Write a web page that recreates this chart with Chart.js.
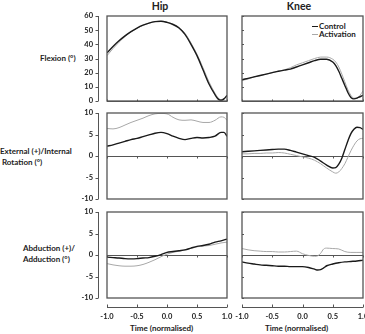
<!DOCTYPE html>
<html>
<head>
<meta charset="utf-8">
<script src="https://cdn.jsdelivr.net/npm/chart.js@4.4.1/dist/chart.umd.min.js"></script>
<style>
  body { margin: 0; background: #fff; }
  #wrap { position: relative; width: 365px; height: 334px; overflow: hidden;
          font-family: Lato, sans-serif; font-weight: bold; color: #222; }
  canvas { position: absolute; left: 0; top: 0; }
  .lbl { position: absolute; font-size: 8px; line-height: 11px; white-space: pre; }
  .title { position: absolute; font-size: 10.5px; transform: translateX(-50%); }
  .key { position: absolute; font-size: 8px; line-height: 9px; white-space: nowrap; }
  .key i { display: inline-block; width: 6px; vertical-align: middle; margin-right: 1px; }
</style>
</head>
<body>
<div id="wrap">
  <div class="title" style="left:160px; top:0px;">Hip</div>
  <div class="title" style="left:299px; top:0px;">Knee</div>
  <div class="lbl" style="left:40px; top:53px;">Flexion (°)</div>
  <div class="lbl" style="left:0px; top:146px;">External (+)/Internal
 Rotation (°)</div>
  <div class="lbl" style="left:23px; top:243px;">Abduction (+)/
Adduction (°)</div>
  <div class="lbl" style="left:130px; top:323px;">Time (normalised)</div>
  <div class="lbl" style="left:265px; top:323px;">Time (normalised)</div>
  <div class="key" style="left:312px; top:22px;"><i style="border-top:1.5px solid #1a1a1a"></i>Control</div>
  <div class="key" style="left:312px; top:30px;"><i style="border-top:1px solid #a8a8a8"></i>Activation</div>
  <canvas id="c0" width="365" height="334"></canvas>
  <canvas id="c1" width="365" height="334"></canvas>
  <canvas id="c2" width="365" height="334"></canvas>
  <canvas id="c3" width="365" height="334"></canvas>
  <canvas id="c4" width="365" height="334"></canvas>
  <canvas id="c5" width="365" height="334"></canvas>
</div>
<script>
// normalised time points (x) for each panel
const timeHipFlex = [-1, -0.9, -0.8, -0.7, -0.6, -0.5, -0.4, -0.3, -0.2, -0.1, 0, 0.1, 0.2, 0.3, 0.4, 0.5, 0.6, 0.7, 0.8, 0.85, 0.9, 0.95, 1];
const timeKnee = [-1, -0.9, -0.8, -0.7, -0.6, -0.5, -0.4, -0.3, -0.2, -0.1, 0, 0.1, 0.2, 0.3, 0.4, 0.5, 0.55, 0.6, 0.65, 0.7, 0.75, 0.8, 0.85, 0.9, 0.95, 1];
const timeHipRot = [-1, -0.9, -0.8, -0.7, -0.6, -0.5, -0.4, -0.3, -0.2, -0.1, 0, 0.1, 0.2, 0.3, 0.4, 0.5, 0.6, 0.7, 0.8, 0.9, 0.95, 1];
const timeHipAbd = [-1, -0.9, -0.8, -0.7, -0.6, -0.5, -0.4, -0.3, -0.2, -0.1, 0, 0.1, 0.2, 0.3, 0.4, 0.5, 0.6, 0.7, 0.8, 0.9, 1];
const timeKneeAbd = [-1, -0.9, -0.8, -0.7, -0.6, -0.5, -0.4, -0.3, -0.2, -0.1, 0, 0.1, 0.2, 0.25, 0.3, 0.35, 0.4, 0.5, 0.6, 0.7, 0.8, 0.9, 1];

// joint angles (degrees)
const hipFlexControl = [34, 38.5, 42.5, 46, 49, 51.5, 53.5, 55, 56, 56.3, 55.5, 54, 51.5, 47, 40, 32, 22, 12, 4.5, 1.5, 0.5, 1.5, 4];
const hipFlexActivation = [32, 37, 41.5, 45.5, 48.7, 51.3, 53.4, 55, 56, 56.3, 55.7, 54.3, 52, 47.8, 41, 33, 23.5, 13.5, 5.5, 2.3, 1, 1.8, 3.5];
const kneeFlexControl = [15, 16, 17, 18, 19, 20, 21, 21.8, 22.5, 24, 25.5, 27, 28.5, 29.5, 29.5, 27.5, 25, 21, 16, 11, 6, 2.5, 1.5, 2, 3, 4];
const kneeFlexActivation = [14.5, 15.5, 17, 18, 19, 20, 21, 22, 23.5, 25.5, 27, 28.5, 30, 31, 31, 29.5, 27.5, 24, 19, 13.5, 8, 4, 2, 2, 4, 7];
const hipRotControl = [2.3, 2.6, 3.0, 3.4, 3.8, 4.1, 4.5, 4.9, 5.3, 5.5, 5.2, 4.6, 4.1, 3.8, 4.1, 4.3, 4.2, 4.3, 4.6, 5.5, 5.5, 4.6];
const hipRotActivation = [6.4, 6.3, 6.6, 7.2, 7.8, 8.3, 8.8, 9.4, 9.8, 9.9, 9.8, 9.0, 8.4, 8.3, 8.4, 8.1, 7.8, 7.8, 8.3, 9.1, 9.0, 8.3];
const kneeRotControl = [1.0, 1.1, 1.2, 1.3, 1.4, 1.5, 1.6, 1.6, 1.3, 0.9, 0.5, 0.1, -0.3, -1.2, -2.1, -2.8, -2.7, -1.9, -0.5, 1.5, 3.5, 5.2, 6.2, 6.7, 6.6, 6.2];
const kneeRotActivation = [0.5, 0.5, 0.6, 0.6, 0.7, 0.7, 0.8, 0.7, 0.4, 0.1, -0.2, -0.5, -1.0, -1.8, -2.8, -3.7, -4.0, -3.7, -2.9, -1.8, -0.3, 1.2, 2.5, 3.5, 4.0, 4.1];
const hipAbdControl = [-0.5, -0.6, -0.7, -0.85, -0.9, -0.85, -0.7, -0.6, -0.3, 0.1, 0.6, 0.8, 1.0, 1.2, 1.6, 2.0, 2.2, 2.5, 3.0, 3.3, 3.7];
const hipAbdActivation = [-2.0, -2.3, -2.5, -2.6, -2.6, -2.5, -2.2, -1.7, -1.1, -0.4, 0.2, 0.6, 0.9, 1.2, 1.6, 1.9, 2.1, 2.2, 2.5, 2.8, 3.0];
const kneeAbdControl = [-1.6, -1.9, -2.1, -2.3, -2.4, -2.5, -2.6, -2.6, -2.7, -2.7, -2.7, -2.9, -3.3, -3.5, -3.4, -3.0, -2.5, -2.1, -1.8, -1.6, -1.5, -1.4, -1.2];
const kneeAbdActivation = [1.5, 1.2, 1.0, 0.9, 0.8, 0.8, 0.7, 0.7, 0.8, 0.9, 0.3, -0.1, -0.3, -0.2, 0.4, 1.4, 1.6, 1.5, 1.4, 0.8, 0.6, 0.6, 0.6];

const seriesNames = ["Control", "Activation"];
const timeTicks = [-1, -0.5, 0, 0.5, 1];

// plot boxes in page pixels
const colBox = { hip: [107, 227], knee: [242, 363] };
const rowBox = [[16, 101], [113, 199], [212, 298]];
const W = 365, H = 334;
const yAxisWidth = 32, xAxisHeight = 26;

const panels = [
  { id: "c0", col: "hip", row: 0, t: timeHipFlex, a: hipFlexControl, b: hipFlexActivation, min: 0, max: 60, step: 10 },
  { id: "c1", col: "knee", row: 0, t: timeKnee, a: kneeFlexControl, b: kneeFlexActivation, min: 0, max: 60, step: 10 },
  { id: "c2", col: "hip", row: 1, t: timeHipRot, a: hipRotControl, b: hipRotActivation, min: -10, max: 10, step: 5 },
  { id: "c3", col: "knee", row: 1, t: timeKnee, a: kneeRotControl, b: kneeRotActivation, min: -10, max: 10, step: 5 },
  { id: "c4", col: "hip", row: 2, t: timeHipAbd, a: hipAbdControl, b: hipAbdActivation, min: -10, max: 10, step: 5 },
  { id: "c5", col: "knee", row: 2, t: timeKneeAbd, a: kneeAbdControl, b: kneeAbdActivation, min: -10, max: 10, step: 5 },
];

const axisColor = "#555";
const tickFont = { family: "Lato", weight: "bold", size: 7.5 };

// draws the Excel-like frame: box, zero line, offset axes
const framePlugin = {
  id: "frame",
  beforeDatasetsDraw(chart, args, opts) {
    const { ctx, chartArea: a, scales: { x, y } } = chart;
    const y0 = Math.round(y.getPixelForValue(0)) + 0.5;
    ctx.save();
    ctx.strokeStyle = axisColor;
    ctx.lineWidth = 1;
    ctx.beginPath();
    ctx.moveTo(a.left, y0);
    ctx.lineTo(a.right, y0);
    x.ticks.forEach((t) => {
      const px = Math.round(x.getPixelForValue(t.value)) + 0.5;
      ctx.moveTo(px, y0);
      ctx.lineTo(px, y0 + opts.zeroTick);
    });
    ctx.stroke();
    ctx.restore();
  },
  afterDatasetsDraw(chart, args, opts) {
    const { ctx, chartArea: a, scales: { x, y } } = chart;
    ctx.save();
    ctx.strokeStyle = axisColor;
    ctx.lineWidth = 1.3;
    ctx.strokeRect(a.left, a.top, a.right - a.left, a.bottom - a.top);
    ctx.lineWidth = 1;
    ctx.beginPath();
    if (opts.leftAxis) {
      const ax = a.left - 8.5;
      ctx.moveTo(ax, a.top);
      ctx.lineTo(ax, a.bottom);
      y.ticks.forEach((t) => {
        const py = Math.round(y.getPixelForValue(t.value)) + 0.5;
        ctx.moveTo(ax, py);
        ctx.lineTo(ax - 3, py);
      });
    } else {
      y.ticks.forEach((t) => {
        const py = Math.round(y.getPixelForValue(t.value)) + 0.5;
        ctx.moveTo(a.left, py);
        ctx.lineTo(a.left + 2, py);
      });
    }
    if (opts.bottomAxis) {
      const ay = a.bottom + 9.5;
      ctx.moveTo(a.left, ay);
      ctx.lineTo(a.right, ay);
      x.ticks.forEach((t) => {
        const px = Math.round(x.getPixelForValue(t.value)) + 0.5;
        ctx.moveTo(px, ay);
        ctx.lineTo(px, ay - 3);
      });
    }
    ctx.stroke();
    ctx.restore();
  },
};

function points(t, v) {
  return t.map((tt, i) => ({ x: tt, y: v[i] }));
}

panels.forEach((p) => {
  const [left, right] = colBox[p.col];
  const [top, bottom] = rowBox[p.row];
  const isHip = p.col === "hip";
  const isBottom = p.row === 2;
  const yw = isHip ? yAxisWidth : 0;
  const xh = isBottom ? xAxisHeight : 0;
  new Chart(document.getElementById(p.id), {
    type: "line",
    data: {
      datasets: [
        {
          label: seriesNames[0],
          data: points(p.t, p.a),
          borderColor: "#1a1a1a",
          borderWidth: 1.4,
          pointRadius: 0,
          cubicInterpolationMode: "monotone",
          order: 1,
        },
        {
          label: seriesNames[1],
          data: points(p.t, p.b),
          borderColor: "#a8a8a8",
          borderWidth: 1,
          pointRadius: 0,
          cubicInterpolationMode: "monotone",
          order: 2,
        },
      ],
    },
    options: {
      responsive: false,
      animation: false,
      layout: { padding: { left: left - yw, right: W - right, top: top, bottom: H - bottom - xh } },
      plugins: {
        legend: { display: false },
        tooltip: { enabled: false },
        frame: { leftAxis: isHip, bottomAxis: isBottom, zeroTick: p.row === 0 ? -2 : 2 },
      },
      scales: {
        x: {
          type: "linear",
          min: -1,
          max: 1,
          afterBuildTicks: (s) => { s.ticks = timeTicks.map((v) => ({ value: v })); },
          afterFit: (s) => { s.height = xh; s.paddingLeft = 0; s.paddingRight = 0; },
          grid: { display: false, drawTicks: false },
          border: { display: false },
          ticks: {
            display: isBottom,
            padding: 14,
            color: "#222",
            font: tickFont,
            maxRotation: 0,
            autoSkip: false,
            callback: (v) => v.toFixed(1),
          },
        },
        y: {
          min: p.min,
          max: p.max,
          afterFit: (s) => { s.width = yw; s.paddingTop = 0; s.paddingBottom = 0; },
          grid: { display: false, drawTicks: false },
          border: { display: false },
          ticks: {
            display: isHip,
            stepSize: p.step,
            padding: 14,
            color: "#222",
            font: tickFont,
            callback: (v) => String(v),
          },
        },
      },
    },
    plugins: [framePlugin],
  });
});
</script>
</body>
</html>
